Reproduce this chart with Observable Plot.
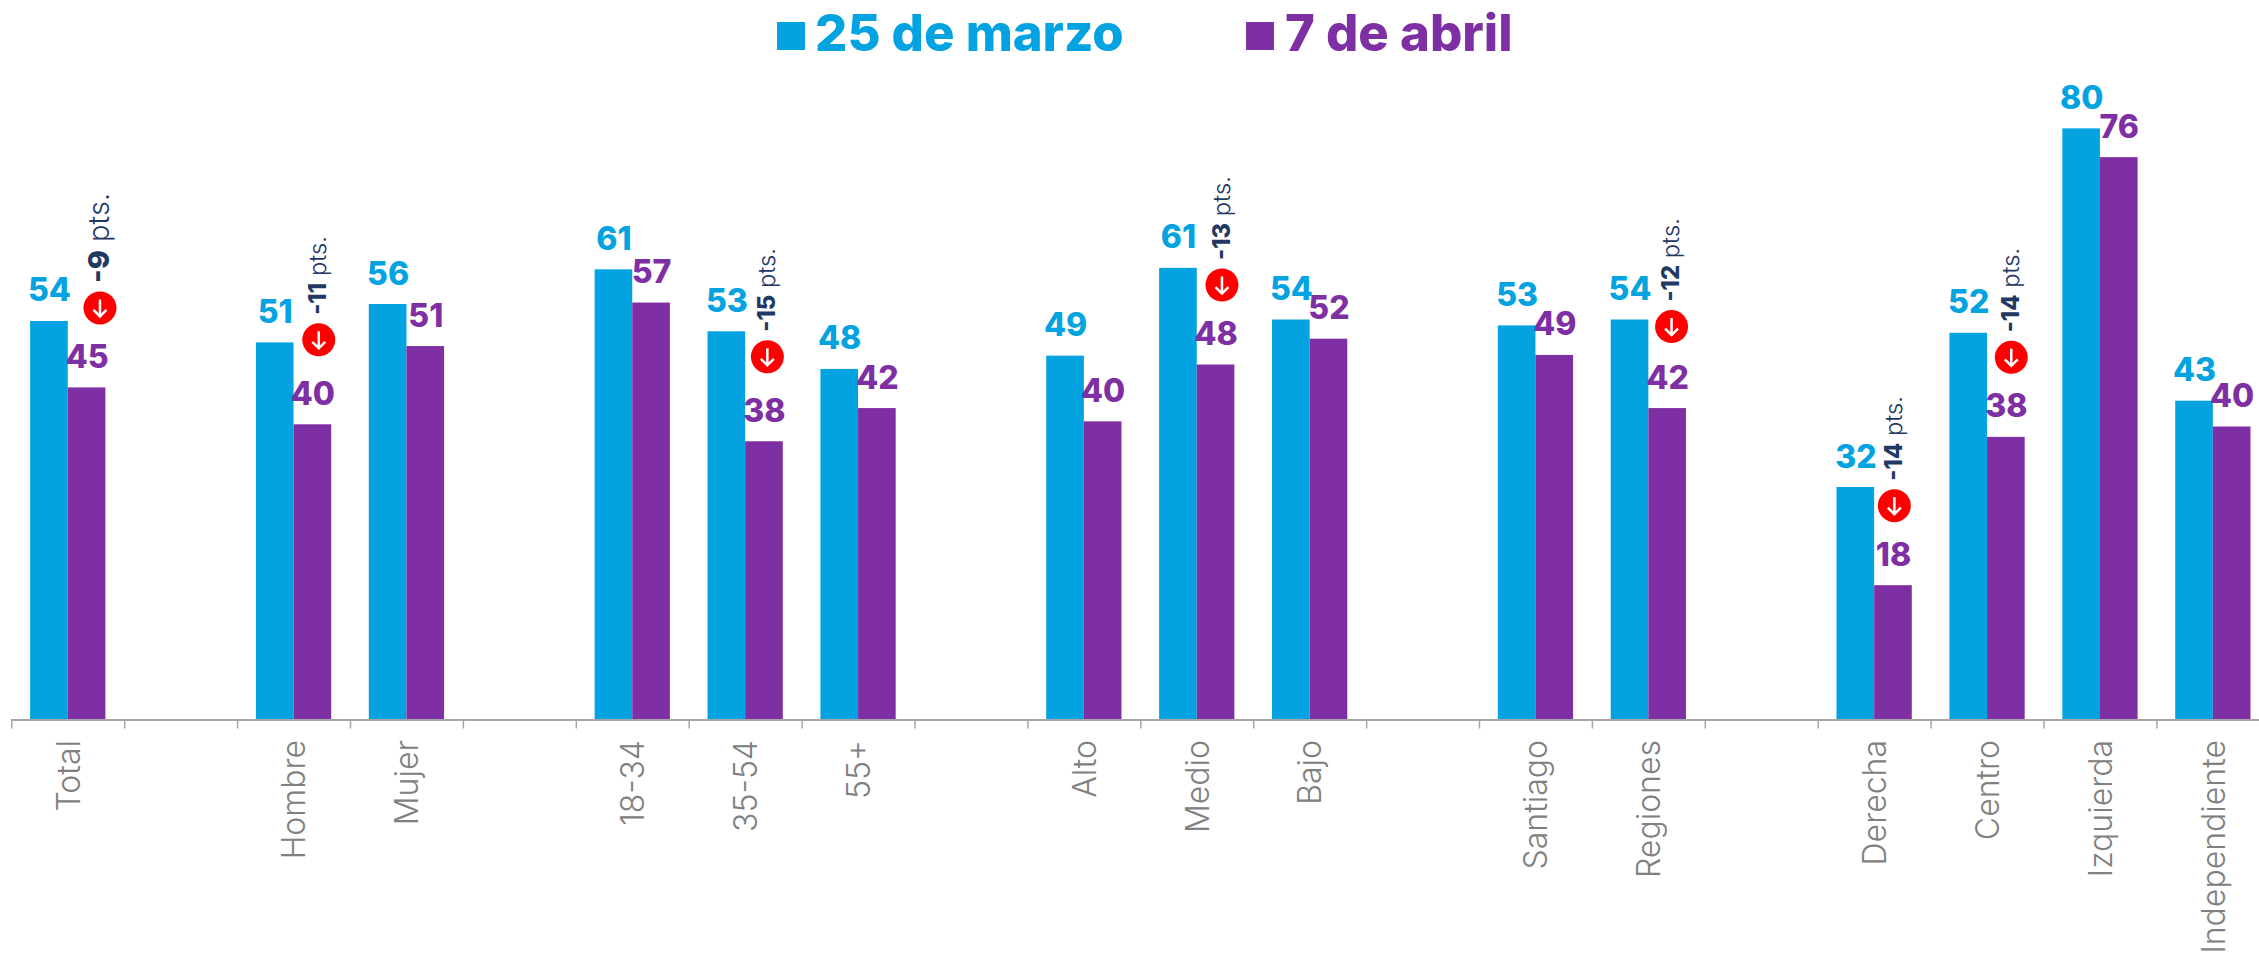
<!DOCTYPE html>
<html lang="es">
<head>
<meta charset="utf-8">
<script src="https://cdn.jsdelivr.net/npm/d3@7"></script>
<script src="https://cdn.jsdelivr.net/npm/@observablehq/plot@0.6"></script>
<style>
  html, body { margin: 0; padding: 0; background: #fff; overflow: hidden; }
  #legend { position: relative; height: 60px; width: 2259px; font-family: Inter, sans-serif; font-weight: 800; font-size: 50.8px; line-height: 60px; }
  #legend span { position: absolute; white-space: nowrap; }
  #legend .sw { width: 28px; height: 28px; top: 22px; }
  #legend .t { top: 3px; }
  svg { display: block; }
</style>
</head>
<body>
<div id="legend"></div>
<div id="chart"></div>
<script>
const categories = ["Total","","Hombre","Mujer","","18-34","35-54","55+","","Alto","Medio","Bajo","","Santiago","Regiones","","Derecha","Centro","Izquierda","Independiente"];
const marzo = [54,null,51.1,56.3,null,61,52.6,47.5,null,49.3,61.2,54.2,null,53.4,54.2,null,31.5,52.4,80.1,43.2];
const abril = [45,null,40,50.6,null,56.5,37.7,42.2,null,40.4,48.1,51.6,null,49.4,42.2,null,18.2,38.3,76.2,39.7];
const cambios = [-9,null,-11,null,null,null,-15,null,null,null,-13,null,null,null,-12,null,-14,-14,null,null];
const seriesNames = ["25 de marzo","7 de abril"];
const seriesColors = ["#02A3E0","#7F2FA4"];

const rows = categories.map((c, i) => ({i, c, marzo: marzo[i], abril: abril[i], cambio: cambios[i]}));
const filled = rows.filter(d => d.marzo != null);
const calls = rows.filter(d => d.cambio != null);

// hand placement of the callouts, as in the original slide
const calloutNudge = new Map([[0,[8,1]],[2,[1,-4]],[6,[-2,-4]],[10,[1,1]],[14,[-1,-1]],[16,[-4,1]],[17,[0,1]]]);

const font = "Inter, sans-serif";
const arrowSymbol = {draw(ctx) {
  ctx.moveTo(0,-8.5); ctx.lineTo(0,8.5);
  ctx.moveTo(-6.5,2); ctx.lineTo(0,8.5); ctx.lineTo(6.5,2);
}};

const calloutMarks = calls.flatMap(d => {
  const [nx, ny] = calloutNudge.get(d.i);
  const size = d.i === 0 ? 29 : 23.7;
  return [
    Plot.dot([d], {x: r => r.i + 0.71, y: "abril", r: 16.5, fill: "#FF0000", dx: nx, dy: -81 + ny}),
    Plot.dot([d], {x: r => r.i + 0.71, y: "abril", r: 9, symbol: arrowSymbol, fill: "none", stroke: "#fff", strokeWidth: 2.5, dx: nx, dy: -81 + ny}),
    Plot.text([d], {x: r => r.i + 0.71, y: "abril", text: r => `${r.cambio} pts.`, rotate: -90, textAnchor: "start", lineAnchor: "middle",
      fontSize: size, fontWeight: 300, fill: "#1F3864", fontFamily: font, dx: nx, dy: -81 + ny - 25, className: "callout"})
  ];
});

const chart = Plot.plot({
  width: 2259,
  height: 893,
  marginTop: 0, marginBottom: 0, marginLeft: 11, marginRight: 0,
  style: {fontFamily: font, background: "#fff", overflow: "visible"},
  x: {type: "linear", domain: [0, 20], range: [11.3, 2269.3], axis: null},
  y: {domain: [0, 80], range: [659.5, 69.1], axis: null},
  marks: [
    Plot.rectY(filled, {x1: d => d.i + 1/6, x2: d => d.i + 1/2, y: "marzo", fill: seriesColors[0]}),
    Plot.rectY(filled, {x1: d => d.i + 1/2, x2: d => d.i + 5/6, y: "abril", fill: seriesColors[1]}),
    Plot.ruleY([0], {stroke: "#A6A6A6", strokeWidth: 2}),
    Plot.axisX({ticks: d3.range(0, 20), tickSize: 9, tickFormat: () => "", stroke: "#A6A6A6", strokeWidth: 1.5, strokeOpacity: 1, anchor: "bottom", frameAnchor: "bottom", y: 0, label: null}),
    Plot.text(rows.filter(d => d.c), {x: d => d.i + 0.5, y: 0, text: "c", rotate: -90, textAnchor: "end", lineAnchor: "middle",
      fontSize: 32, fontWeight: 300, fill: "#808080", dx: 1, dy: 20}),
    Plot.text(filled, {x: d => d.i + 1/3, y: "marzo", text: d => String(Math.round(d.marzo)), fill: seriesColors[0], fontWeight: 800, fontSize: 32, textAnchor: "middle", lineAnchor: "bottom", dy: -20}),
    Plot.text(filled, {x: d => d.i + 2/3, y: "abril", text: d => String(Math.round(d.abril)), fill: seriesColors[1], fontWeight: 800, fontSize: 32, textAnchor: "middle", lineAnchor: "bottom", dy: -20}),
    ...calloutMarks
  ]
});

// bold figure + light "pts." inside each rotated callout
d3.select(chart).selectAll(".callout text").each(function() {
  const [num, rest] = this.textContent.split(" ");
  const t = d3.select(this).text(null);
  t.append("tspan").attr("font-weight", 800).text(num);
  t.append("tspan").attr("font-weight", 300).text(" " + rest);
});

document.getElementById("chart").append(chart);

const legend = d3.select("#legend");
[[776.5, 815], [1246, 1285]].forEach(([sw, tx], k) => {
  legend.append("span").attr("class", "sw").style("left", sw + "px").style("background", seriesColors[k]);
  legend.append("span").attr("class", "t").style("left", tx + "px").style("color", seriesColors[k]).text(seriesNames[k]);
});
</script>
</body>
</html>
